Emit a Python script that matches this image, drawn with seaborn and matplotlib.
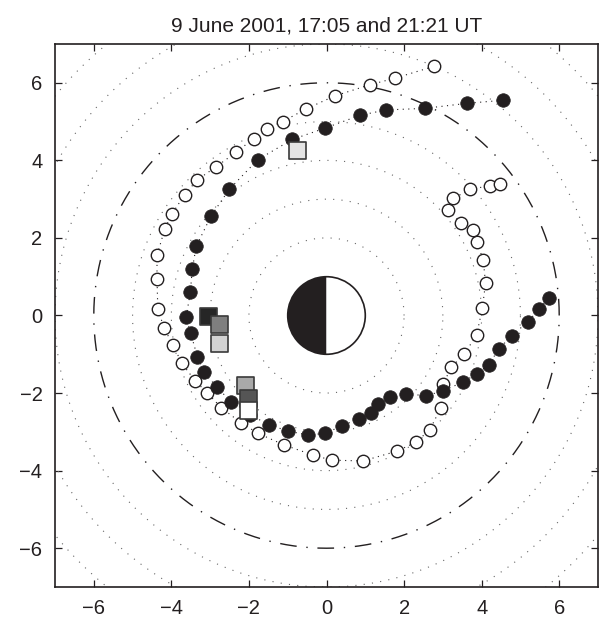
import numpy as np
import pandas as pd
import matplotlib
matplotlib.use('Agg')
import matplotlib.pyplot as plt
from matplotlib.patches import Circle, Wedge
import seaborn as sns

title = '9 June 2001, 17:05 and 21:21 UT'

# filled circles (one pass)
filled_x = [4.56, 3.62, 2.53, 1.53, 0.86, -0.04, -0.88, -1.77, -2.51, -2.98, -3.36, -3.46,
            -3.51, -3.62, -3.50, -3.33, -3.17, -2.82, -2.45, -1.96, -1.47, -0.99, -0.48, -0.04,
            0.41, 0.84, 1.16, 1.34, 1.63, 2.06, 2.57, 3.01, 3.51, 3.88, 4.18, 4.44, 4.77, 5.20,
            5.48, 5.74]
filled_y = [5.55, 5.47, 5.34, 5.30, 5.16, 4.83, 4.54, 4.02, 3.25, 2.56, 1.78, 1.20,
            0.61, -0.05, -0.46, -1.06, -1.46, -1.85, -2.24, -2.57, -2.82, -2.98, -3.08, -3.04,
            -2.84, -2.66, -2.52, -2.29, -2.09, -2.02, -2.07, -1.94, -1.72, -1.50, -1.27, -0.87,
            -0.52, -0.16, 0.17, 0.45]

# open circles (other pass)
open_x = [2.76, 1.77, 1.12, 0.21, -0.52, -1.13, -1.53, -1.88, -2.33, -2.84, -3.34, -3.66,
          -3.99, -4.17, -4.37, -4.37, -4.35, -4.19, -3.96, -3.73, -3.39, -3.07, -2.71, -2.20,
          -1.76, -1.09, -0.34, 0.13, 0.94, 1.81, 2.30, 2.66, 2.95, 3.01, 3.22, 3.55, 3.87,
          4.02, 4.10, 4.04, 3.87, 3.77, 3.48, 3.12, 3.27, 3.70, 4.22, 4.47]
open_y = [6.42, 6.12, 5.95, 5.66, 5.33, 5.00, 4.82, 4.56, 4.21, 3.84, 3.49, 3.11,
          2.61, 2.23, 1.55, 0.94, 0.18, -0.32, -0.76, -1.23, -1.68, -2.00, -2.38, -2.77,
          -3.04, -3.34, -3.60, -3.73, -3.75, -3.50, -3.27, -2.95, -2.38, -1.76, -1.33, -1.00, -0.50,
          0.19, 0.84, 1.44, 1.90, 2.20, 2.38, 2.73, 3.02, 3.25, 3.35, 3.40]

# squares
sq_x = [-3.05, -2.75, -2.77, -2.08, -2.02, -2.02, -0.74]
sq_y = [-0.03, -0.22, -0.71, -1.80, -2.13, -2.44, 4.26]
sq_shade = ['#262626', '#7f7f7f', '#d2d2d2', '#a9a9a9', '#555555', '#ffffff', '#e4e4e4']

grid_radii = [2, 3, 4, 5, 7, 8, 9, 10]
ref_radius = 6
ticks = [-6, -4, -2, 0, 2, 4, 6]

sns.set_style('ticks')
plt.rcParams['font.family'] = ['Liberation Sans', 'DejaVu Sans']

fig = plt.figure(figsize=(6.02, 6.19), dpi=100)
ax = fig.add_axes([55 / 602, 32 / 619, 543 / 602, 543 / 619])

theta = np.linspace(0, 2 * np.pi, 721)
for r in grid_radii:
    ax.plot(r * np.cos(theta), r * np.sin(theta), color='#666666', lw=0.8,
            linestyle=(0, (1, 6.5)), zorder=1)
ax.plot(ref_radius * np.cos(theta), ref_radius * np.sin(theta), color='#231f20', lw=1.0,
        linestyle=(0, (12, 7, 1, 7)), zorder=1)

df_f = pd.DataFrame({'x': filled_x, 'y': filled_y})
df_o = pd.DataFrame({'x': open_x, 'y': open_y})
df_s = pd.DataFrame({'x': sq_x, 'y': sq_y, 'c': sq_shade})

sns.lineplot(data=df_f, x='x', y='y', sort=False, estimator=None, ax=ax, color='#231f20',
             lw=0.8, linestyle=(0, (1, 4)), zorder=2)
sns.lineplot(data=df_o, x='x', y='y', sort=False, estimator=None, ax=ax, color='#231f20',
             lw=0.8, linestyle=(0, (1, 4)), zorder=2)
sns.scatterplot(data=df_o, x='x', y='y', ax=ax, marker='o', s=80, facecolor='white',
                edgecolor='#231f20', linewidth=1.0, zorder=3)
sns.scatterplot(data=df_f, x='x', y='y', ax=ax, marker='o', s=95, color='#231f20',
                edgecolor='#231f20', linewidth=0.5, zorder=3)
sns.scatterplot(data=df_s, x='x', y='y', ax=ax, marker='s', s=150, hue='c',
                palette={c: c for c in sq_shade}, edgecolor='#3a3a3a', linewidth=1.2,
                legend=False, zorder=4)

# Earth, night side dark
ax.add_patch(Wedge((0, 0), 1, 90, 270, facecolor='#231f20', edgecolor='none', zorder=5))
ax.add_patch(Wedge((0, 0), 1, 270, 90, facecolor='white', edgecolor='none', zorder=5))
ax.add_patch(Circle((0, 0), 1, facecolor='none', edgecolor='#231f20', lw=1.2, zorder=6))

ax.set_xlim(-7, 7)
ax.set_ylim(-7, 7)
ax.set_aspect('equal', adjustable='box')
ax.set_xticks(ticks)
ax.set_yticks(ticks)
ax.set_xticklabels([str(t).replace('-', '\u2212') for t in ticks])
ax.set_yticklabels([str(t).replace('-', '\u2212') for t in ticks])
ax.set_xlabel('')
ax.set_ylabel('')
ax.tick_params(direction='in', length=5, width=0.9, top=True, right=True,
               labelsize=14.5, pad=9, colors='#231f20')
for s in ax.spines.values():
    s.set_linewidth(1.2)
    s.set_color('#231f20')
ax.set_title(title, fontsize=15, pad=9, color='#231f20')

fig.savefig('out.png', dpi=100)
